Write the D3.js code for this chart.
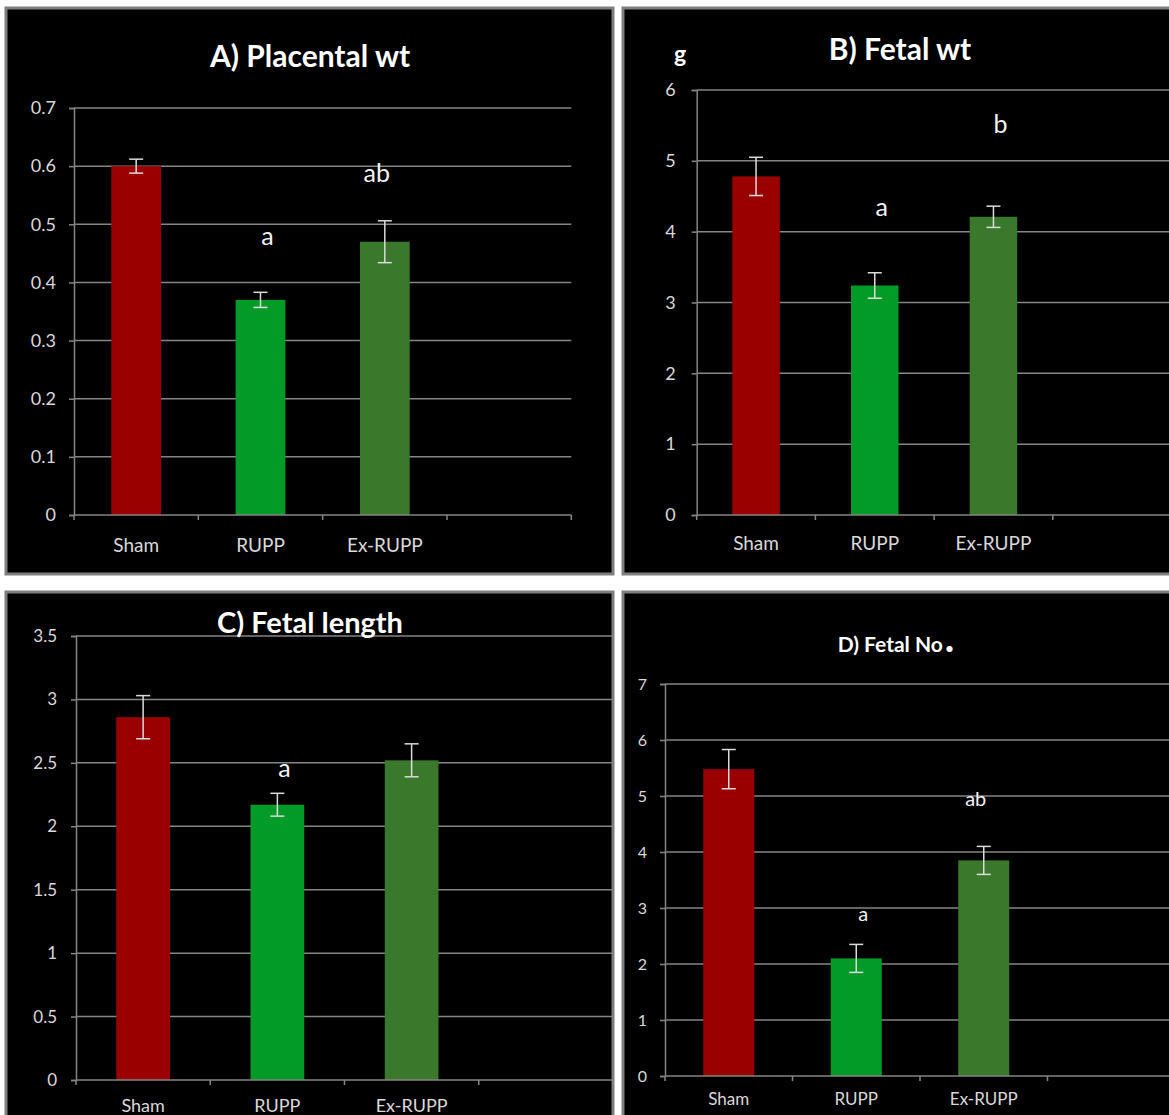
<!DOCTYPE html>
<html>
<head>
<meta charset="utf-8">
<script src="https://cdn.jsdelivr.net/npm/d3@7"></script>
<style>
  html, body { margin: 0; padding: 0; background: #ffffff; }
  svg { display: block; }
  text { font-family: Lato, "Open Sans", "Noto Sans", sans-serif; }
</style>
</head>
<body>
<svg id="chart" width="1169" height="1115"></svg>
<script>
// Groups shown on every panel (the fourth slot is an empty category)
const groups = ["Sham", "RUPP", "Ex-RUPP", ""];

// A) Placental weight
const placentalWt    = [0.60, 0.37, 0.47];
const placentalWtErr = [0.012, 0.013, 0.036];
const placentalTicks = [0, 0.1, 0.2, 0.3, 0.4, 0.5, 0.6, 0.7];
const placentalSig   = ["", "a", "ab"];

// B) Fetal weight (g)
const fetalWt    = [4.78, 3.24, 4.21];
const fetalWtErr = [0.27, 0.18, 0.15];
const fetalWtTicks = [0, 1, 2, 3, 4, 5, 6];
const fetalWtSig   = ["", "a", "b"];

// C) Fetal length
const fetalLen    = [2.86, 2.17, 2.52];
const fetalLenErr = [0.17, 0.09, 0.13];
const fetalLenTicks = [0, 0.5, 1, 1.5, 2, 2.5, 3, 3.5];
const fetalLenSig   = ["", "a", ""];

// D) Fetal number
const fetalNo    = [5.48, 2.10, 3.85];
const fetalNoErr = [0.35, 0.25, 0.25];
const fetalNoTicks = [0, 1, 2, 3, 4, 5, 6, 7];
const fetalNoSig   = ["", "a", "ab"];

const barColors = ["#9a0000", "#039b27", "#3a782b"];

// Panel layout: frame, plot area, text placement
const panels = [
  { title: "A) Placental wt", values: placentalWt, errs: placentalWtErr, ticks: placentalTicks, sig: placentalSig,
    sigAt: [null, 0.48, 0.587],
    frame: [6, 8, 607, 566], px: [74, 571.3], py: [515, 108], titleXY: [310, 67], titleSize: 30,
    tickSize: 18, tickPad: 13, catSize: 19, catY: 552, sigSize: 25, unit: null },
  { title: "B) Fetal wt", values: fetalWt, errs: fetalWtErr, ticks: fetalWtTicks, sig: fetalWtSig,
    sigAt: [null, 4.34, 5.52],
    frame: [623, 8, 560, 566], px: [696.7, 1171.5], py: [515, 90], titleXY: [900, 60], titleSize: 30,
    tickSize: 18, tickPad: 16, catSize: 19, catY: 550, sigSize: 25, unit: "g" },
  { title: "C) Fetal length", values: fetalLen, errs: fetalLenErr, ticks: fetalLenTicks, sig: fetalLenSig,
    sigAt: [null, 2.46, null],
    frame: [6, 592, 607, 540], px: [76, 613], py: [1080, 636], titleXY: [310, 633], titleSize: 29,
    tickSize: 17, tickPad: 14, catSize: 18, catY: 1112, sigSize: 25, unit: null },
  { title: "D) Fetal No", values: fetalNo, errs: fetalNoErr, ticks: fetalNoTicks, sig: fetalNoSig,
    sigAt: [null, 2.89, 4.94],
    frame: [623, 592, 560, 540], px: [665, 1175], py: [1076, 684], titleXY: [896, 652], titleSize: 21,
    tickSize: 16, tickPad: 13, catSize: 17, catY: 1105, sigSize: 20, unit: null, bigDot: true }
];

const svg = d3.select("#chart");
const gridColor = "#858585";
const labelColor = "#d9d9d9";

panels.forEach(p => {
  const g = svg.append("g");
  const [fx, fy, fw, fh] = p.frame;

  g.append("rect")
    .attr("x", fx).attr("y", fy).attr("width", fw).attr("height", fh)
    .attr("fill", "#000000").attr("stroke", "#7f7f7f").attr("stroke-width", 3);

  const x = d3.scaleBand().domain(groups).range(p.px).paddingInner(0).paddingOuter(0);
  const y = d3.scaleLinear().domain([0, d3.max(p.ticks)]).range(p.py);
  const barW = x.bandwidth() * 0.4;

  // horizontal gridlines
  g.append("g").selectAll("line").data(p.ticks.filter(t => t > 0)).join("line")
    .attr("x1", p.px[0]).attr("x2", p.px[1])
    .attr("y1", d => y(d)).attr("y2", d => y(d))
    .attr("stroke", gridColor).attr("stroke-width", 1.5);

  // y axis
  const yAxis = g.append("g").attr("transform", `translate(${p.px[0]},0)`)
    .call(d3.axisLeft(y).tickValues(p.ticks).tickSize(5).tickPadding(p.tickPad).tickFormat(d3.format("")));
  yAxis.select(".domain").attr("stroke", gridColor).attr("stroke-width", 1.5);
  yAxis.selectAll(".tick line").attr("stroke", gridColor).attr("stroke-width", 1.5);
  yAxis.selectAll(".tick text").attr("fill", labelColor).attr("font-size", p.tickSize)
    .style("font-family", "Lato, 'Open Sans', sans-serif");

  // bars
  g.append("g").selectAll("rect").data(p.values).join("rect")
    .attr("x", (d, i) => x(groups[i]) + (x.bandwidth() - barW) / 2)
    .attr("y", d => y(d))
    .attr("width", barW)
    .attr("height", d => y(0) - y(d))
    .attr("fill", (d, i) => barColors[i]);

  // x axis: line, ticks at category boundaries, category labels
  const xAxis = g.append("g").attr("transform", `translate(0,${y(0)})`);
  xAxis.append("line").attr("x1", p.px[0]).attr("x2", p.px[1])
    .attr("stroke", gridColor).attr("stroke-width", 1.5);
  xAxis.selectAll("line.tk").data(d3.range(groups.length + 1)).join("line").attr("class", "tk")
    .attr("x1", i => p.px[0] + i * x.step()).attr("x2", i => p.px[0] + i * x.step())
    .attr("y1", 0).attr("y2", 5).attr("stroke", gridColor).attr("stroke-width", 1.5);
  g.append("g").selectAll("text").data(groups.filter(d => d)).join("text")
    .attr("x", d => x(d) + x.bandwidth() / 2)
    .attr("y", p.catY)
    .attr("text-anchor", "middle")
    .attr("fill", labelColor)
    .attr("font-size", p.catSize)
    .text(d => d);

  // error bars
  const eb = g.append("g").attr("stroke", "#dcdcdc").attr("stroke-width", 1.5);
  p.values.forEach((v, i) => {
    const cx = x(groups[i]) + x.bandwidth() / 2;
    const e = p.errs[i];
    eb.append("line").attr("x1", cx).attr("x2", cx).attr("y1", y(v + e)).attr("y2", y(v - e));
    eb.append("line").attr("x1", cx - 7).attr("x2", cx + 7).attr("y1", y(v + e)).attr("y2", y(v + e));
    eb.append("line").attr("x1", cx - 7).attr("x2", cx + 7).attr("y1", y(v - e)).attr("y2", y(v - e));
  });

  // significance letters
  p.sig.forEach((s, i) => {
    if (!s) return;
    g.append("text")
      .attr("x", x(groups[i]) + x.bandwidth() / 2 + (p.sig[i].length > 1 ? -8 : 7))
      .attr("y", y(p.sigAt[i]))
      .attr("dy", "0.35em")
      .attr("text-anchor", "middle")
      .attr("fill", "#f2f2f2")
      .attr("font-size", p.sigSize)
      .text(s);
  });

  // title
  const t = g.append("text")
    .attr("x", p.titleXY[0]).attr("y", p.titleXY[1])
    .attr("text-anchor", "middle")
    .attr("fill", "#ffffff")
    .attr("font-weight", "bold")
    .attr("font-size", p.titleSize)
    .text(p.title);
  if (p.bigDot) {
    t.append("tspan").attr("font-size", p.titleSize * 1.9).attr("dx", 2).text(".");
  }

  // unit label
  if (p.unit) {
    g.append("text").attr("x", 680).attr("y", 62)
      .attr("text-anchor", "middle").attr("fill", "#ffffff")
      .attr("font-weight", "bold").attr("font-size", 23).text(p.unit);
  }
});
</script>
</body>
</html>
